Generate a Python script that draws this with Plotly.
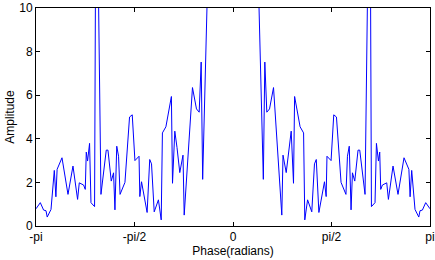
import math
import plotly.graph_objects as go

# Phase (radians) and amplitude, left half
phase_left = [-3.1416, -3.0728, -3.0203, -2.9820, -2.9629, -2.9024, -2.8498, -2.8243, -2.8050,
              -2.7271, -2.6315, -2.5518, -2.4785, -2.4514, -2.3829, -2.3558, -2.3399, -2.3192,
              -2.2873, -2.2650, -2.2076, -2.1917, -2.1598, -2.1056, -2.0212, -1.9941, -1.9415,
              -1.9049, -1.8826, -1.8539, -1.8252, -1.8013, -1.7232, -1.6499, -1.6069, -1.5639,
              -1.4986, -1.4858, -1.4587, -1.3695, -1.3281, -1.2994, -1.2564, -1.1894, -1.1448,
              -1.1257, -1.0700, -0.9823, -0.9648, -0.9281, -0.8931, -0.8485, -0.7975, -0.7784,
              -0.6461, -0.5824, -0.5394, -0.5075, -0.4836, -0.4039, -0.2844, -0.1251, 0.0]
amp_left = [0.79, 1.07, 0.73, 0.70, 0.41, 0.76, 2.55, 1.34, 2.60,
            3.13, 1.45, 2.75, 1.22, 1.98, 1.88, 1.68, 3.39, 2.98,
            3.79, 1.07, 0.89, 12.0, 14.0, 1.45, 3.48, 3.48, 2.06,
            2.44, 0.74, 3.66, 3.20, 1.45, 2.00, 5.00, 5.10, 3.00,
            3.20, 1.35, 2.03, 0.62, 3.05, 2.85, 0.65, 1.20, 0.28,
            4.27, 4.55, 5.94, 1.96, 4.35, 3.60, 2.45, 3.25, 0.50,
            6.35, 5.37, 5.22, 7.52, 2.14, 11.0, 25.0, 45.0, 60.0]

# Right half (mirror image in the reference)
phase_right = [0.1251, 0.2844, 0.4039, 0.4836, 0.5075, 0.5394, 0.5824, 0.6461, 0.7784,
               0.7975, 0.8485, 0.8931, 0.9281, 0.9648, 0.9823, 1.0700, 1.1257, 1.1448,
               1.1894, 1.2564, 1.2994, 1.3281, 1.3695, 1.4587, 1.4858, 1.4986, 1.5639,
               1.6069, 1.6499, 1.7232, 1.8013, 1.8252, 1.8539, 1.8826, 1.9049, 1.9415,
               1.9941, 2.0212, 2.1056, 2.1598, 2.1917, 2.2076, 2.2650, 2.2873, 2.3192,
               2.3399, 2.3558, 2.3829, 2.4514, 2.4785, 2.5518, 2.6315, 2.7271, 2.8050,
               2.8243, 2.8498, 2.9024, 2.9629, 2.9820, 3.0203, 3.0728, 3.1416]
amp_right = [45.0, 25.0, 11.0, 2.14, 7.52, 5.22, 5.37, 6.35, 0.50,
             3.25, 2.45, 3.60, 4.35, 1.96, 5.94, 4.55, 4.27, 0.28,
             1.20, 0.65, 2.85, 3.05, 0.62, 2.03, 1.35, 3.20, 3.00,
             5.10, 5.00, 2.00, 1.45, 3.20, 3.66, 0.74, 2.44, 2.06,
             3.48, 3.48, 1.45, 14.0, 12.0, 0.89, 1.07, 3.79, 2.98,
             3.39, 1.68, 1.88, 1.98, 1.22, 2.75, 1.45, 3.13, 2.60,
             1.34, 2.55, 0.76, 0.41, 0.70, 0.73, 1.07, 0.79]

x_tickvals = [-math.pi, -math.pi / 2, 0, math.pi / 2, math.pi]
x_ticktext = ["-pi", "-pi/2", "0", "pi/2", "pi"]
y_tickvals = [0, 2, 4, 6, 8, 10]

font = dict(family="Liberation Sans, Arial, sans-serif", size=12, color="black")

fig = go.Figure()
fig.add_trace(go.Scatter(
    x=phase_left + phase_right,
    y=amp_left + amp_right,
    mode="lines",
    line=dict(color="#0000FF", width=1),
    showlegend=False,
))

axis_common = dict(
    showgrid=False, zeroline=False, showline=True, linecolor="black", linewidth=1,
    mirror="ticks", ticks="inside", ticklen=4, tickcolor="black", tickwidth=1,
    tickfont=font, automargin=False,
)
fig.update_xaxes(range=[-math.pi, math.pi], tickvals=x_tickvals, ticktext=x_ticktext,
                 title=dict(text="Phase(radians)", font=font, standoff=0), **axis_common)
fig.update_yaxes(range=[0, 10], tickvals=y_tickvals,
                 title=dict(text="Amplitude", font=font, standoff=2), **axis_common)

fig.update_layout(
    width=435, height=260,
    margin=dict(l=36, r=5, t=8, b=34),
    paper_bgcolor="white", plot_bgcolor="white",
    font=font,
)

fig.write_html("out.html", config={"displayModeBar": False},
               post_script="document.body.style.margin='0';")
